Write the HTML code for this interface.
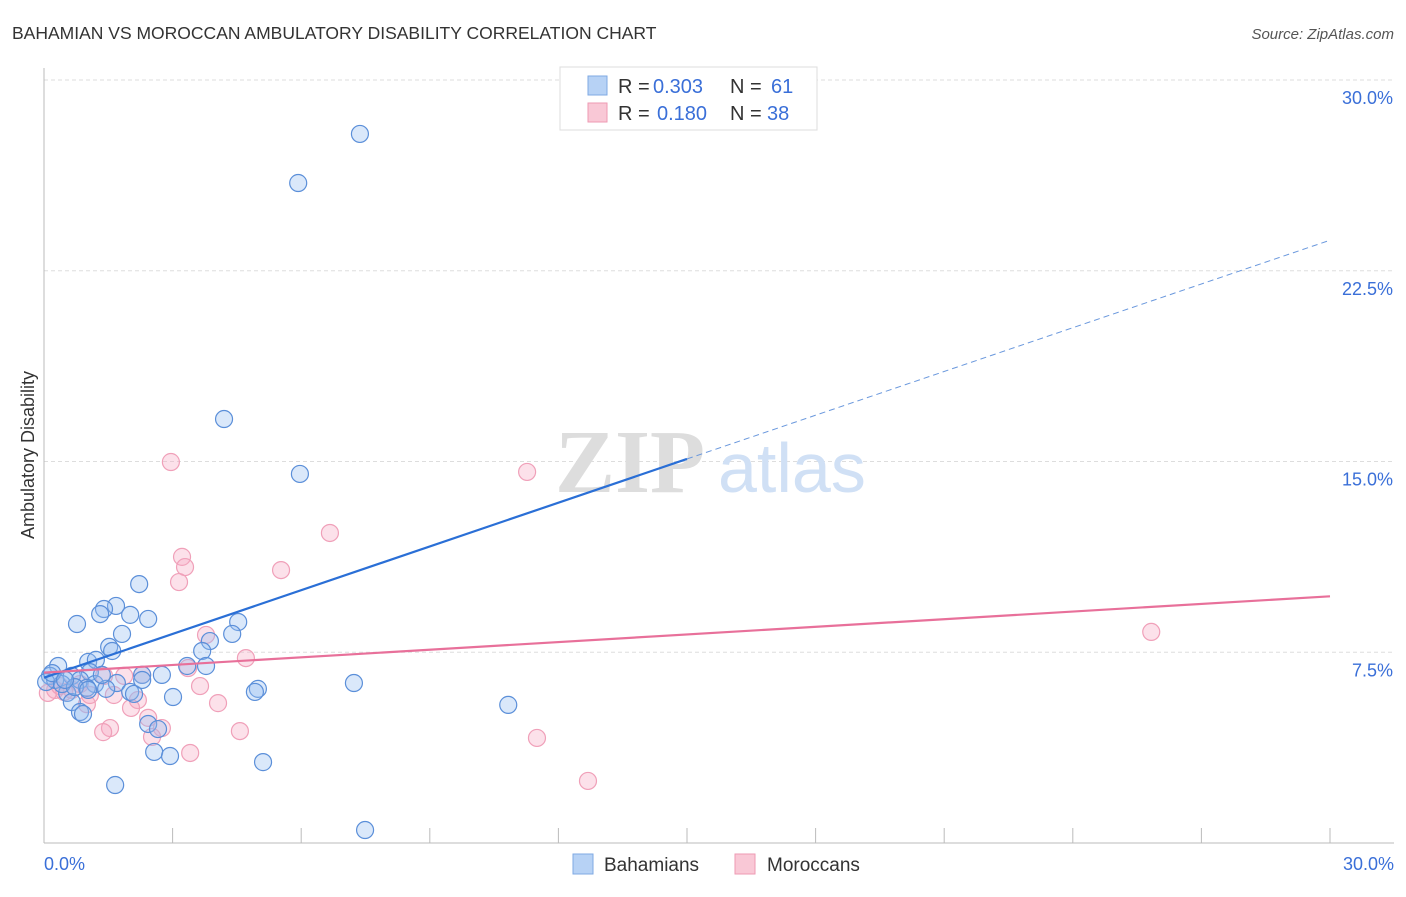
<!DOCTYPE html>
<html><head><meta charset="utf-8"><style>
body{margin:0;background:#fff;font-family:"Liberation Sans",sans-serif}
</style></head><body>
<svg width="1406" height="892" xmlns="http://www.w3.org/2000/svg">
<text x="12" y="39" font-size="17.5" fill="#333">BAHAMIAN VS MOROCCAN AMBULATORY DISABILITY CORRELATION CHART</text>
<text x="1394" y="39" font-size="15" fill="#555" font-style="italic" text-anchor="end">Source: ZipAtlas.com</text>
<g id="grid"></g>
<text x="555" y="492" font-size="90" font-family="Liberation Serif,serif" font-weight="bold" fill="#ddd">ZIP</text>
<text x="718" y="492" font-size="70" fill="#d0e0f5">atlas</text>
<g id="marks"></g>
<text x="34" y="455" font-size="18" fill="#333" text-anchor="middle" transform="rotate(-90 34 455)">Ambulatory Disability</text>
<g>
<rect x="560" y="67" width="257" height="63" fill="#fff" stroke="#ddd"/>
<rect x="588" y="76" width="19" height="19" fill="#b7d2f5" stroke="#7fa9e3"/>
<text x="618" y="93" font-size="20" fill="#333">R =</text>
<text x="653" y="93" font-size="20" fill="#3a6fd8">0.303</text>
<text x="730" y="93" font-size="20" fill="#333">N =</text>
<text x="771" y="93" font-size="20" fill="#3a6fd8">61</text>
<rect x="588" y="103" width="19" height="19" fill="#f9c8d6" stroke="#ee9ab3"/>
<text x="618" y="120" font-size="20" fill="#333">R =</text>
<text x="657" y="120" font-size="20" fill="#3a6fd8">0.180</text>
<text x="730" y="120" font-size="20" fill="#333">N =</text>
<text x="767" y="120" font-size="20" fill="#3a6fd8">38</text>
</g>
<g>
<rect x="573" y="854" width="20" height="20" fill="#b7d2f5" stroke="#7fa9e3"/>
<text x="604" y="871" font-size="19" fill="#333">Bahamians</text>
<rect x="735" y="854" width="20" height="20" fill="#f9c8d6" stroke="#ee9ab3"/>
<text x="767" y="871" font-size="19" fill="#333">Moroccans</text>
</g>
</svg>
<script>
const yTicks=[7.5,15,22.5,30];
const yTickLabels=["7.5%","15.0%","22.5%","30.0%"];
const xTickLabels=["0.0%","30.0%"];
const blueX=[7.37,5.93,4.20,5.97,2.22,1.68,1.40,1.31,2.01,2.43,0.77,4.53,1.82,4.39,3.87,1.52,1.59,3.69,1.03,1.21,3.34,3.78,0.33,2.75,2.29,1.07,0.65,0.14,0.26,0.84,1.19,1.70,7.23,4.99,4.92,1.45,1.00,2.01,2.10,0.54,3.01,0.65,10.83,0.84,0.91,2.43,2.66,2.57,2.94,5.11,1.66,7.49,0.05,0.42,1.35,0.72,0.19,1.03,2.29,0.49];
const blueY=[27.88,25.95,16.67,14.51,10.18,9.32,9.20,9.00,8.97,8.81,8.61,8.69,8.22,8.22,7.94,7.71,7.55,7.55,7.12,7.20,6.96,6.96,6.96,6.61,6.61,6.72,6.57,6.57,6.41,6.41,6.25,6.29,6.29,6.06,5.94,6.06,6.10,5.94,5.86,5.90,5.74,5.54,5.43,5.15,5.07,4.68,4.48,3.58,3.42,3.18,2.28,0.51,6.33,6.25,6.61,6.13,6.68,6.02,6.41,6.41];
const pinkX=[2.96,11.27,6.67,3.22,3.29,3.15,5.53,25.83,3.78,4.71,3.36,2.29,1.87,3.64,1.40,0.26,0.09,0.47,0.65,1.63,2.19,4.06,1.00,2.03,2.43,2.75,1.54,1.38,2.52,4.57,11.50,3.41,12.69,1.07,0.37,0.84];
const pinkY=[14.98,14.59,12.19,11.25,10.85,10.26,10.73,8.30,8.18,7.27,6.88,6.61,6.57,6.17,6.57,6.02,5.90,5.94,6.02,5.82,5.62,5.50,5.46,5.31,4.92,4.52,4.52,4.36,4.17,4.40,4.13,3.54,2.44,5.82,6.17,6.25];
const blueTrend=[6.5,23.7];
const pinkTrend=[6.7,9.7];
const NS="http://www.w3.org/2000/svg";
const X=v=>44+v/30*1286, Y=v=>843-v/30*763;
function mk(t,a,p){const e=document.createElementNS(NS,t);for(const k in a)e.setAttribute(k,a[k]);p.appendChild(e);return e;}
const g=document.getElementById('grid'), m=document.getElementById('marks');
yTicks.forEach((t,i)=>{
 const l=mk('line',{x1:44,x2:1394,y1:Y(t),y2:Y(t),stroke:'#ddd','stroke-dasharray':'4,3'},g);
 
 
 const tx=mk('text',{x:1393,y:Y(t)+24,'font-size':18,fill:'#3a6fd8','text-anchor':'end'},g);
 tx.textContent=yTickLabels[i];
 
 
});
const ax=mk('line',{x1:44,x2:44,y1:68,y2:843,stroke:'#bbb'},g);


const bx=mk('line',{x1:44,x2:1394,y1:843,y2:843,stroke:'#bbb'},g);


for(let i=0;i<=10;i++){const t=mk('line',{x1:X(i*3),x2:X(i*3),y1:828,y2:843,stroke:'#bbb'},g);
 
 }
[[0,44,'start'],[30,1394,'end']].forEach((d,i)=>{const t=mk('text',{x:d[1],y:870,'font-size':18,fill:'#3a6fd8','text-anchor':d[2]},g);
 t.textContent=xTickLabels[i];
 
 });
pinkX.forEach((v,i)=>{const c=mk('circle',{cx:X(v),cy:Y(pinkY[i]),r:8.5,fill:'rgba(246,170,195,0.35)',stroke:'#f0a0b9','stroke-width':1.2},m);
 
 });
blueX.forEach((v,i)=>{const c=mk('circle',{cx:X(v),cy:Y(blueY[i]),r:8.5,fill:'rgba(150,190,240,0.35)',stroke:'#5b8fd9','stroke-width':1.2},m);
 
 });
const bv=x=>blueTrend[0]+(blueTrend[1]-blueTrend[0])*x/30;
const l1=mk('line',{x1:X(0),y1:Y(bv(0)),x2:X(15),y2:Y(bv(15)),stroke:'#2a6fd6','stroke-width':2.2},m);


const l2=mk('line',{x1:X(15),y1:Y(bv(15)),x2:X(30),y2:Y(bv(30)),stroke:'#6a98dd','stroke-width':1,'stroke-dasharray':'6,4'},m);


const l3=mk('line',{x1:X(0),y1:Y(pinkTrend[0]),x2:X(30),y2:Y(pinkTrend[1]),stroke:'#e8709a','stroke-width':2.2},m);


</script>
</body></html>
